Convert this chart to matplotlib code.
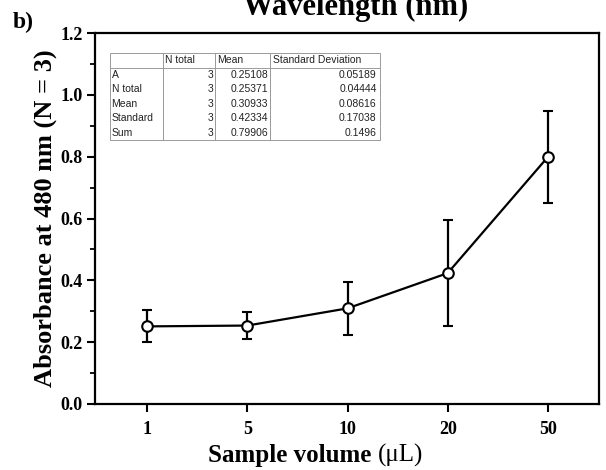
import matplotlib
matplotlib.use("Agg")
import matplotlib.pyplot as plt
import numpy as np

# ---- data ----
volumes = ["1", "5", "10", "20", "50"]
means = [0.25108, 0.25371, 0.30933, 0.42334, 0.79906]
sds = [0.05189, 0.04444, 0.08616, 0.17038, 0.1496]
n_total = [3, 3, 3, 3, 3]
table_rows = ["A", "N total", "Mean", "Standard", "Sum"]
table_cols = ["", "N total", "Mean", "Standard Deviation"]
yticks = [0.0, 0.2, 0.4, 0.6, 0.8, 1.0, 1.2]

serif = ["Liberation Serif", "DejaVu Serif"]
sans = ["Liberation Sans", "DejaVu Sans"]

W, H = 606, 470
fig = plt.figure(figsize=(W/100, H/100), dpi=100)
L, R, T, B = 95, 599, 33, 404
ax = fig.add_axes([L/W, 1-B/H, (R-L)/W, (B-T)/H])

x = np.arange(len(volumes))
ax.errorbar(x, means, yerr=sds, color="black", lw=1.6, elinewidth=1.6,
            capsize=3.3, capthick=1.6, marker="o", ms=7.6, mfc="white",
            mec="black", mew=1.5, zorder=3)

ax.set_xlim(-0.52, len(volumes)-0.49)
ax.set_ylim(0, 1.2)
ax.set_xticks(x)
ax.set_xticklabels(volumes)
ax.set_yticks(yticks)
ax.set_yticklabels([f"{v:.1f}" for v in yticks])
ax.set_yticks(np.arange(0.1, 1.2, 0.2), minor=True)
for sp in ax.spines.values():
    sp.set_linewidth(1.6)
ax.tick_params(axis="both", which="major", direction="out", length=6, width=1.5,
               labelsize=13)
ax.tick_params(axis="y", which="minor", direction="out", length=3.5, width=1.3)
ax.tick_params(axis="x", which="major", pad=6)
ax.tick_params(axis="y", which="major", pad=3)
for lab in ax.get_xticklabels() + ax.get_yticklabels():
    lab.set_fontfamily(serif)
    lab.set_fontweight("bold")

ax.set_ylabel("Absorbance at 480 nm (N = 3)", fontfamily=serif,
              fontweight="bold", fontsize=19)
ax.yaxis.set_label_coords((57-L)/(R-L), 0.5)

# x label: bold words + regular "(μL)"
xl = fig.text(208/W, 1-462/H, "Sample volume ", fontfamily=serif, fontweight="bold",
              fontsize=18, ha="left", va="baseline")
fig.text(0, 0, "(μL)", fontfamily=serif, fontweight="normal", fontsize=18)
fig.texts[-1].remove()
ax.annotate("(μL)", xy=(1, 0), xycoords=xl, ha="left", va="bottom",
            fontfamily=serif, fontsize=18, annotation_clip=False)

fig.text(356/W, 1-15/H, "Wavelength (nm)", fontfamily=serif, fontweight="bold",
         fontsize=22, ha="center", va="baseline")
fig.text(13/W, 1-28/H, "b)", fontfamily=serif, fontweight="bold",
         fontsize=17, ha="left", va="baseline")

# ---- inset table ----
cell_text = []
for r, n, m, s in zip(table_rows, n_total, means, sds):
    cell_text.append([r, str(n), f"{m:.5f}", f"{s:.5g}"])
tbl = ax.table(cellText=cell_text, colLabels=table_cols,
               bbox=[(110-L)/(R-L), (B-140)/(B-T), (380-110)/(R-L), (140-53)/(B-T)],
               colWidths=[53, 52, 55, 110], zorder=5)
tbl.auto_set_font_size(False)
nrows = len(cell_text)
for (r, c), cell in tbl.get_celld().items():
    cell.set_edgecolor("#9a9a9a")
    cell.set_linewidth(0.7)
    cell.PAD = 0.03
    t = cell.get_text()
    t.set_fontsize(7.5)
    t.set_fontfamily(sans)
    t.set_color("#222222")
    if r == 0:
        cell.visible_edges = "closed"
        t.set_ha("left")
        cell._loc = "left"
    else:
        cell.visible_edges = "LRB" if r == nrows else "LR"
        if c == 0:
            cell._loc = "left"
            t.set_ha("left")
        else:
            cell._loc = "right"
            t.set_ha("right")

fig.savefig("out.png", dpi=100)
